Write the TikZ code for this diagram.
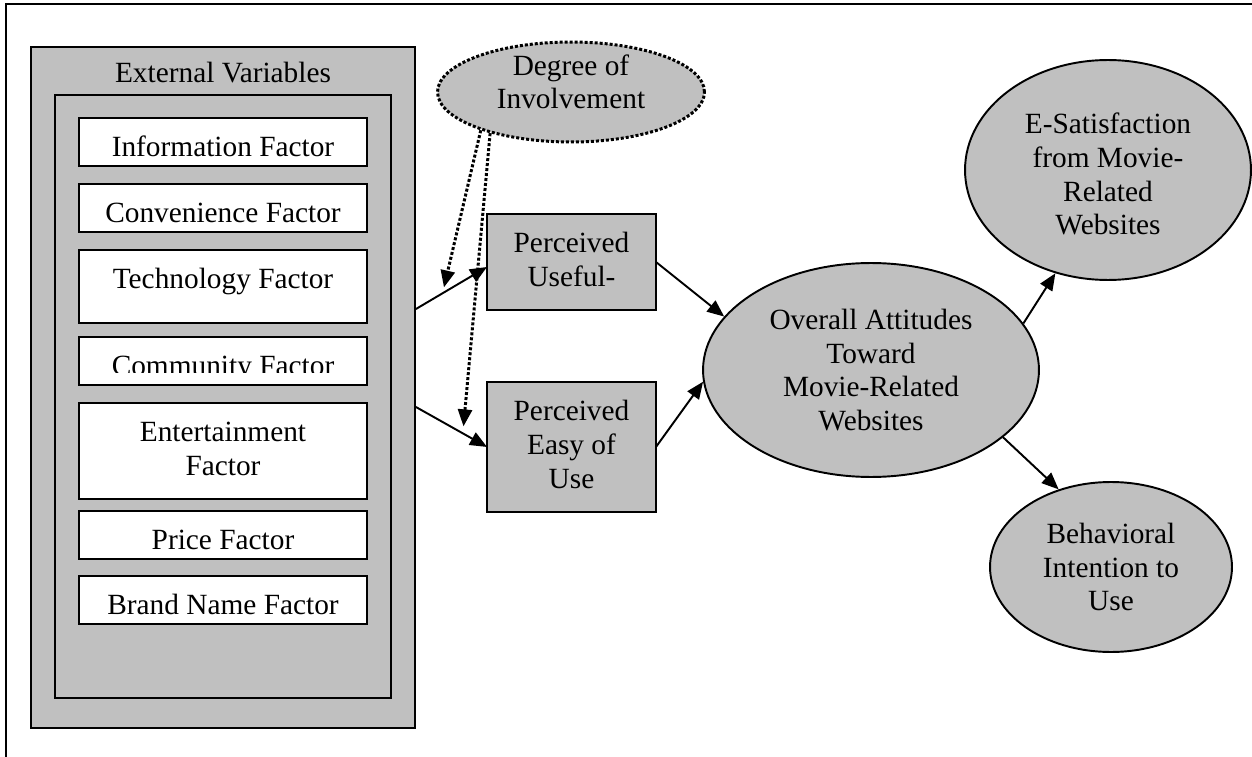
\documentclass[tikz,border=0pt]{standalone}
\usepackage{fontspec}
\setmainfont{Liberation Serif}
\usetikzlibrary{positioning, shapes.geometric, arrows.meta}
\definecolor{boxgray}{HTML}{C0C0C0}

\begin{document}
\begin{tikzpicture}[x = 0.02cm, y = -0.02cm, line width = 1.1pt, align = center,
    font = \fontsize{16.7pt}{19.3pt}\selectfont,
    factor/.style = {draw, fill = white, inner sep = 0pt, outer sep = 0pt, minimum width = 5.76cm, anchor = north},
    perc/.style = {draw, fill = boxgray, inner sep = 0pt, outer sep = 0pt, minimum width = 3.38cm, anchor = north},
    oval/.style = {draw, ellipse, fill = boxgray, inner sep = 0pt},
    arr/.style = {-{Triangle[length = 0.34cm, width = 0.28cm]}},
    dotline/.style = {line width = 1.7pt, dash pattern = on 0.06cm off 0.04cm},
    dots/.style = {arr, dotline}]
    \useasboundingbox (0,0) rectangle (1252,757);
    \draw (6,757) -- (6,4) -- (1252,4);

    % external variables
    \node[draw, fill = boxgray, minimum width = 7.68cm, minimum height = 13.62cm] (ext) at (223,387.5) {};
    \node[draw, fill = boxgray, minimum width = 6.72cm, minimum height = 12.06cm] (inner) at (223,396.5) {};
    \node[anchor = base] (exttitle) at (223,83) {External Variables};

    \node[factor, text height = 0.77cm, text depth = 0.19cm] (info) at (223,118) {Information Factor};
    \node[factor, text height = 0.77cm, text depth = 0.19cm] (conv) [below = 0.36cm of info] {Convenience Factor};
    \node[factor, text height = 0.77cm, text depth = 0.69cm] (tech) [below = 0.36cm of conv] {Technology Factor};
    \node[factor, text height = 0.77cm, text depth = 0.19cm] (comm) [below = 0.28cm of tech] {};
    \begin{scope}
      \clip (comm.north west) rectangle ([yshift = 0.24cm]comm.south east);
      \node[factor, draw = none, fill = none, text height = 0.77cm, text depth = 0.19cm] (commtext) at (comm.north) {Community Factor};
    \end{scope}
    \node[factor, text height = 1.45cm, text depth = 0.47cm] (ent) [below = 0.36cm of comm] {Entertainment\\Factor};
    \node[factor, text height = 0.77cm, text depth = 0.19cm] (price) [below = 0.24cm of ent] {Price Factor};
    \node[factor, text height = 0.77cm, text depth = 0.19cm] (brand) [below = 0.34cm of price] {Brand Name Factor};

    % perceived
    \node[perc, text height = 1.45cm, text depth = 0.47cm] (useful) at (571.5,214) {Perceived\\Useful-};
    \node[perc, text height = 2.13cm, text depth = 0.47cm] (easy) [below = 1.44cm of useful] {Perceived\\Easy of\\Use};

    \node[oval, dotline, minimum width = 5.34cm, minimum height = 2cm, text height = 0.88cm, text depth = 0.2cm] (degree) at (571,92) {Degree of\\Involvement};

    \node[oval, minimum width = 6.72cm, minimum height = 4.28cm] (overall) at (871,370) {Overall Attitudes\\Toward\\Movie-Related\\Websites};
    \node[oval, minimum width = 5.72cm, minimum height = 4.4cm, text height = 2.6cm, text depth = 0cm] (esat) at (1108,170) {E-Satisfaction\\from Movie-\\Related\\Websites};
    \node[oval, minimum width = 4.84cm, minimum height = 3.4cm] (behav) at (1111,567) {Behavioral\\Intention to\\Use};

    \draw[arr] ([yshift = 1.57cm]ext.east) -- coordinate[pos = 0.375] (uhit) ([yshift = -0.1cm]useful.west);
    \draw[arr] ([yshift = -0.39cm]ext.east) -- coordinate[pos = 0.66] (ehit) (easy.west);
    \draw[dots, shorten > = 0.12cm] (degree.203) -- (uhit);
    \draw[dots, shorten > = 0.14cm] (degree.207) -- (ehit);

    \draw[arr] (useful.east) -- (overall.160);
    \draw[arr] (easy.east) -- (overall.184);
    \draw[arr] (overall.17) -- (esat.243);
    \draw[arr] (overall.-27) -- (behav.124);
\end{tikzpicture}
\end{document}
